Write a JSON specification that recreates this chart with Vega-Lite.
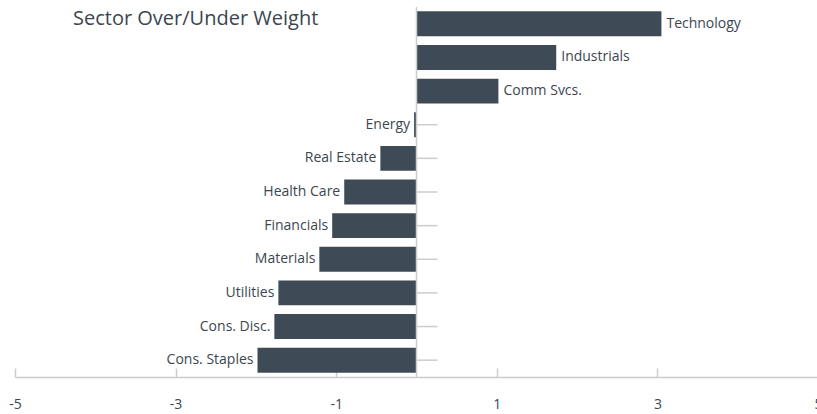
{
  "$schema": "https://vega.github.io/schema/vega-lite/v6.json",
  "width": 803,
  "height": 370,
  "autosize": "none",
  "padding": {"left": 15, "top": 7, "right": 0, "bottom": 37},
  "background": "white",
  "title": {
    "text": "Sector Over/Under Weight",
    "anchor": "start",
    "frame": "group",
    "orient": "top",
    "baseline": "top",
    "dx": 58,
    "dy": 27,
    "font": "Open Sans",
    "fontSize": 20,
    "fontWeight": "normal",
    "color": "#3b4650"
  },
  "config": {"view": {"stroke": null}},
  "data": {
    "values": [
      {"sector": "Technology", "value": 3.05},
      {"sector": "Industrials", "value": 1.74},
      {"sector": "Comm Svcs.", "value": 1.02},
      {"sector": "Energy", "value": -0.03},
      {"sector": "Real Estate", "value": -0.45},
      {"sector": "Health Care", "value": -0.9},
      {"sector": "Financials", "value": -1.05},
      {"sector": "Materials", "value": -1.21},
      {"sector": "Utilities", "value": -1.72},
      {"sector": "Cons. Disc.", "value": -1.77},
      {"sector": "Cons. Staples", "value": -1.98}
    ]
  },
  "encoding": {
    "y": {
      "field": "sector",
      "type": "nominal",
      "sort": null,
      "axis": null,
      "scale": {"paddingInner": 0.26, "paddingOuter": 0.13}
    }
  },
  "layer": [
    {
      "mark": {"type": "rule", "color": "#cccccc", "strokeWidth": 1.5},
      "encoding": {
        "x": {"datum": 0, "type": "quantitative", "scale": {"domain": [-5, 5], "nice": false}},
        "x2": {"datum": 0.26}
      }
    },
    {
      "mark": {"type": "bar", "color": "#3e4b57"},
      "encoding": {
        "x": {
          "field": "value",
          "type": "quantitative",
          "scale": {"domain": [-5, 5], "nice": false},
          "axis": {
            "values": [-5, -3, -1, 1, 3, 5],
            "labelExpr": "'' + datum.value",
            "title": null,
            "grid": false,
            "domainColor": "#cccccc",
            "domainWidth": 1.5,
            "tickColor": "#cccccc",
            "tickSize": -9,
            "tickWidth": 1.5,
            "labelPadding": 29,
            "labelFont": "Open Sans",
            "labelFontSize": 14,
            "labelColor": "#3b4650",
            "labelFlush": false,
            "labelOverlap": false
          }
        },
        "x2": {"datum": 0}
      }
    },
    {
      "data": {"values": [{}]},
      "mark": {"type": "rule", "color": "#cccccc", "strokeWidth": 1.5},
      "encoding": {
        "x": {"datum": 0, "type": "quantitative"},
        "y": null
      }
    },
    {
      "transform": [{"filter": "datum.value >= 0"}],
      "mark": {"type": "text", "align": "left", "dx": 5, "font": "Open Sans", "fontSize": 14, "color": "#3b4650"},
      "encoding": {
        "x": {"field": "value", "type": "quantitative"},
        "text": {"field": "sector"}
      }
    },
    {
      "transform": [{"filter": "datum.value < 0"}],
      "mark": {"type": "text", "align": "right", "dx": -4, "font": "Open Sans", "fontSize": 14, "color": "#3b4650"},
      "encoding": {
        "x": {"field": "value", "type": "quantitative"},
        "text": {"field": "sector"}
      }
    }
  ]
}
